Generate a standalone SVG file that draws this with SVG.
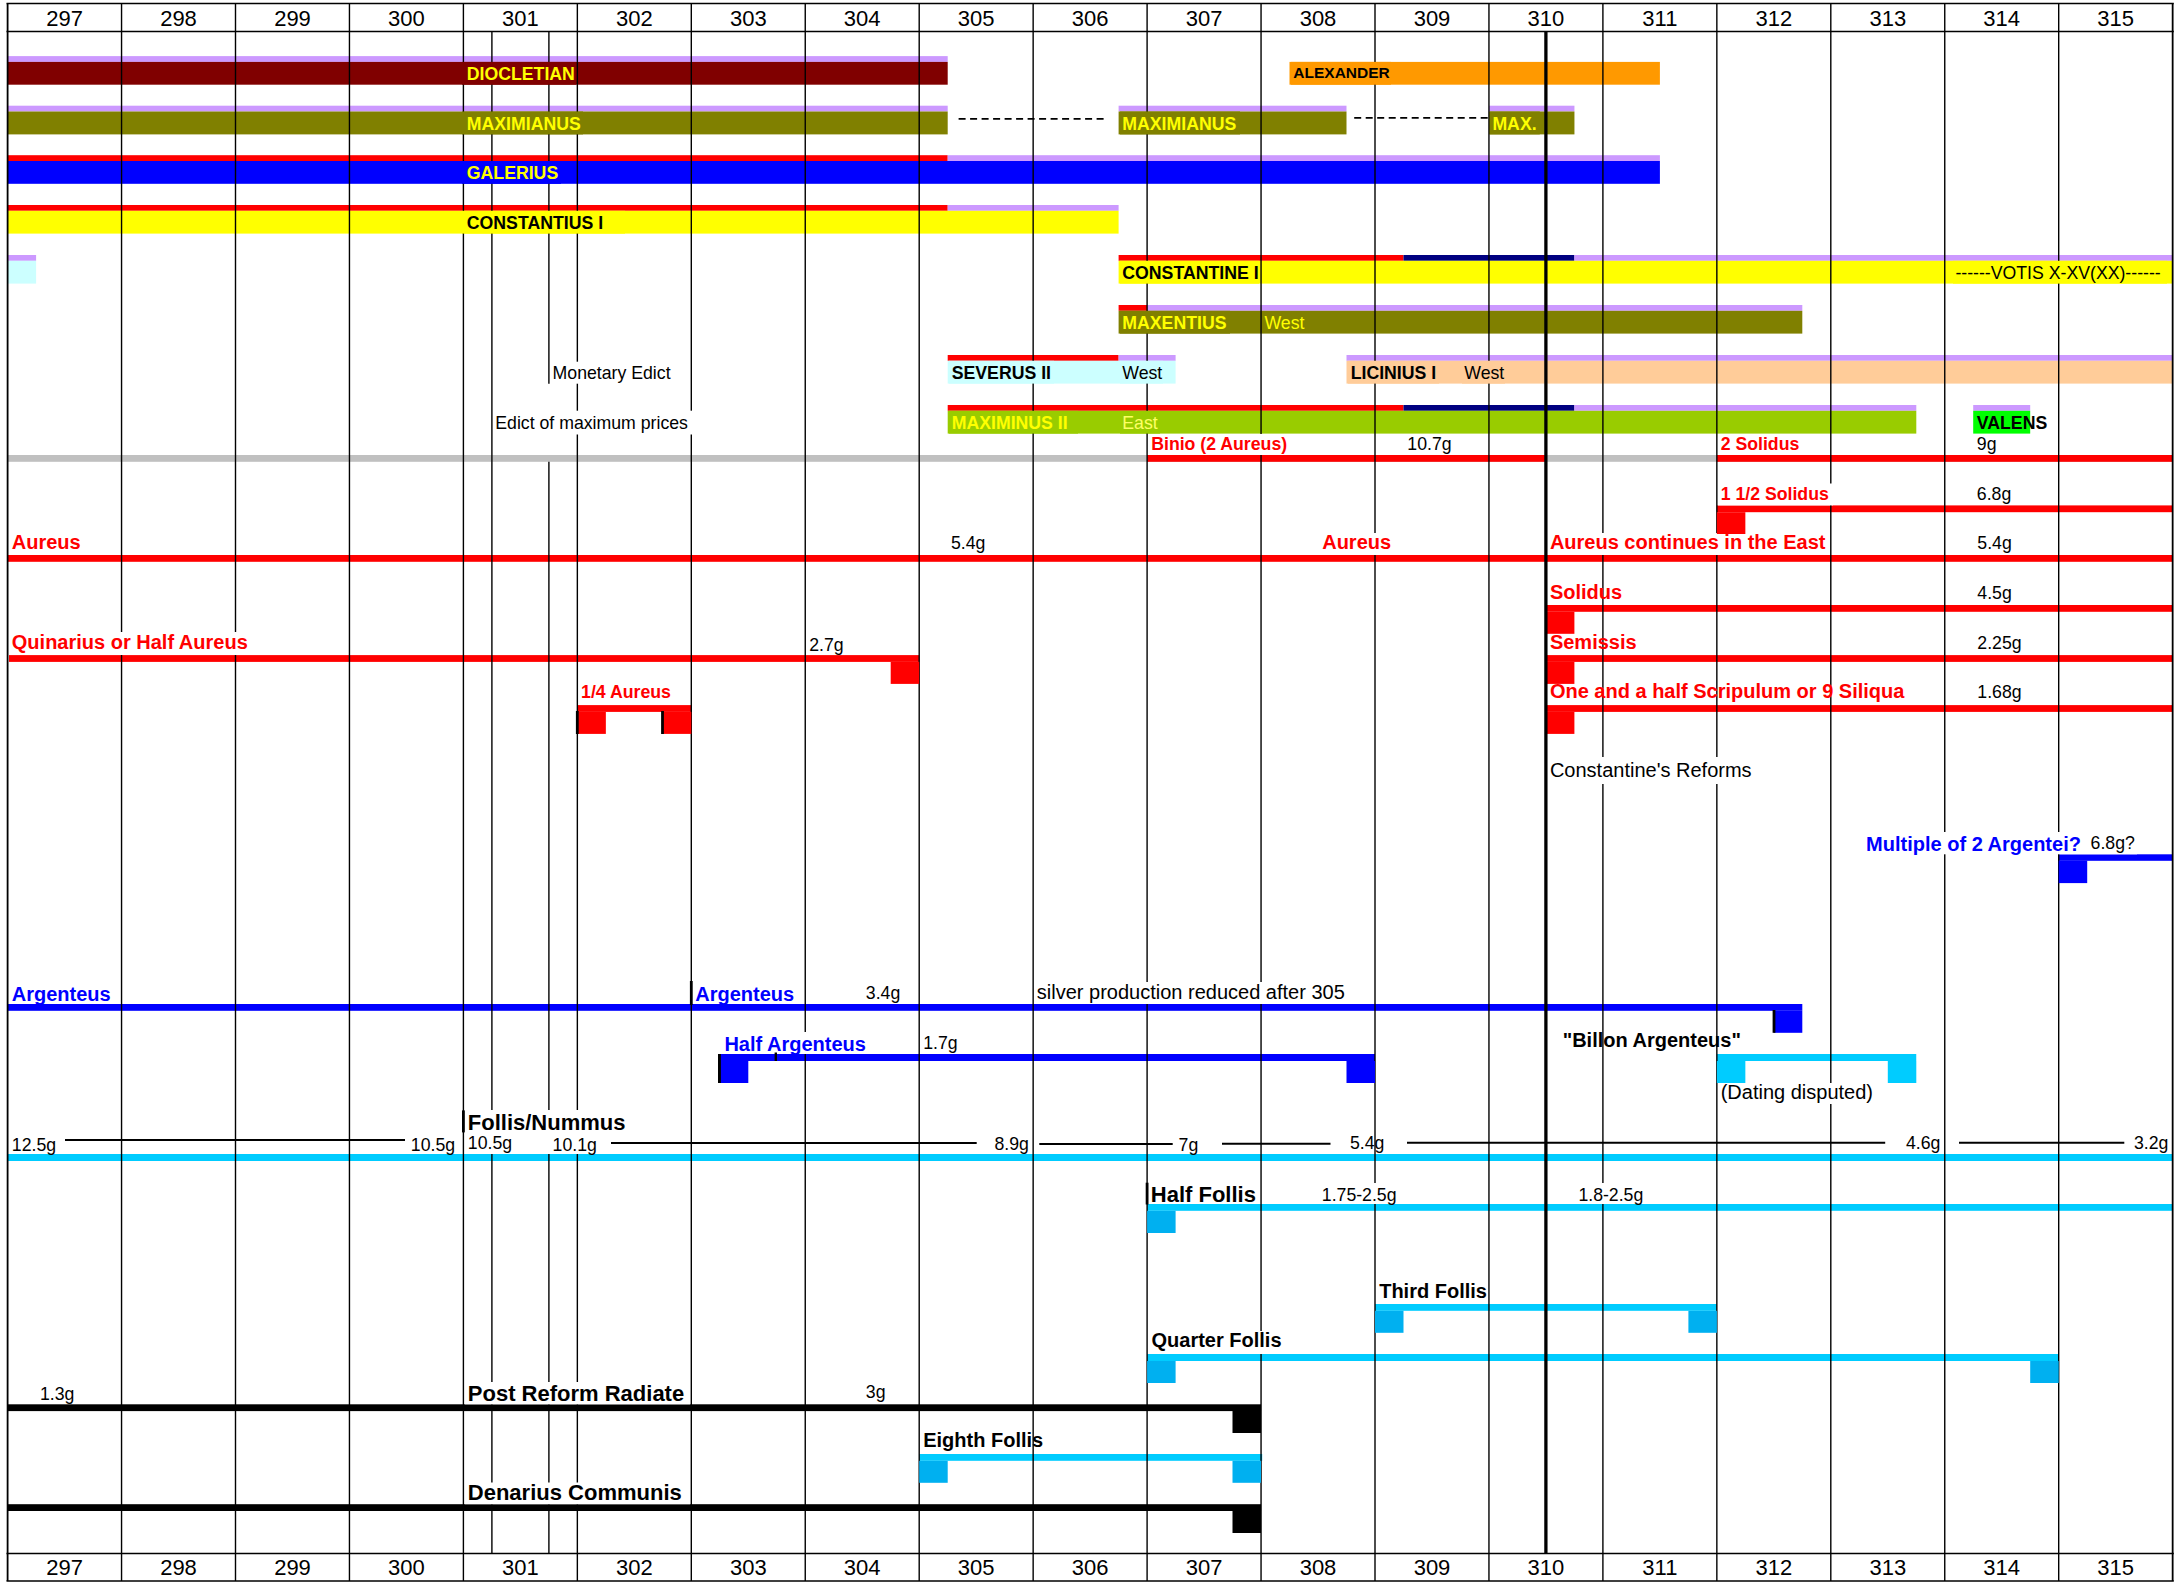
<svg xmlns="http://www.w3.org/2000/svg" width="2179" height="1587" viewBox="0 0 2179 1587">
<defs>
<style>
text{font-family:"Liberation Sans",Arial,Helvetica,sans-serif}
.yr{font-size:22px;text-anchor:middle;fill:#000}
.rb{font-size:17.7px;font-weight:bold}
.r{font-size:17.7px;fill:#000}
.r20{font-size:20px;fill:#000}
.b20{font-size:20px;font-weight:bold}
.b22{font-size:22px;font-weight:bold;fill:#000}
.grid line{stroke:#000;stroke-width:1.4}
.hl{stroke:#000;stroke-width:2.6}
.thick{stroke:#000;stroke-width:3.3}
.wl line{stroke:#000;stroke-width:2}
.dash{stroke:#000;stroke-width:1.8;stroke-dasharray:7 4.5}
.lav{fill:#CC99FF}
.red{fill:#FF0000}
.navy{fill:#000080}
.cy{fill:#00CCFF}
.cy2{fill:#00B0F0}
.blk{fill:#000}
.blu{fill:#0000FF}
.yel{fill:#FFFF00}
.ol{fill:#808000}
.wb{fill:#FFFFFF}
.tr{fill:#FF0000}
.tb{fill:#0000FF}
.ty{fill:#FFFF00}
.tk{fill:#000}
</style>
</defs>
<rect x="0" y="0" width="2179" height="1587" fill="#FFFFFF"/>

<!-- ruler bars -->
<g id="bars">
<g id="diocletian-bar"><rect class="lav" x="7.6" y="56.1" width="940.1" height="5.8"/><rect x="7.6" y="61.9" width="940.1" height="22.8" fill="#800000"/></g>
<g id="alexander-bar"><rect x="1289.5" y="61.9" width="370.4" height="22.8" fill="#FF9900"/></g>
<g id="maximianus-bar"><rect class="lav" x="7.6" y="105.7" width="940.1" height="5.8"/><rect class="ol" x="7.6" y="111.5" width="940.1" height="22.9"/>
<rect class="lav" x="1118.6" y="105.7" width="227.9" height="5.8"/><rect class="ol" x="1118.6" y="111.5" width="227.9" height="22.9"/>
<rect class="lav" x="1488.95" y="105.7" width="85.5" height="5.8"/><rect class="ol" x="1488.95" y="111.5" width="85.5" height="22.9"/></g>
<g id="galerius-bar"><rect class="red" x="7.6" y="155.2" width="940.1" height="5.8"/><rect class="lav" x="947.7" y="155.2" width="712.2" height="5.8"/><rect class="blu" x="7.6" y="161" width="1652.3" height="22.8"/></g>
<g id="constantius-bar"><rect class="red" x="7.6" y="205" width="940.1" height="5.8"/><rect class="lav" x="947.7" y="205" width="170.9" height="5.8"/><rect class="yel" x="7.6" y="210.8" width="1111" height="22.8"/></g>
<g id="small-bar"><rect class="lav" x="7.6" y="255" width="28.5" height="5.8"/><rect x="7.6" y="260.8" width="28.5" height="22.8" fill="#CCFFFF"/></g>
<g id="constantine-bar"><rect class="red" x="1118.6" y="255" width="284.9" height="5.8"/><rect class="navy" x="1403.5" y="255" width="170.9" height="5.8"/><rect class="lav" x="1574.4" y="255" width="598.25" height="5.8"/><rect class="yel" x="1118.6" y="260.8" width="1054.05" height="22.8"/></g>
<g id="maxentius-bar"><rect class="red" x="1118.6" y="305" width="28.5" height="5.8"/><rect class="lav" x="1147.1" y="305" width="655.2" height="5.8"/><rect class="ol" x="1118.6" y="310.8" width="683.7" height="22.8"/></g>
<g id="severus-bar"><rect class="red" x="947.7" y="355" width="170.9" height="5.8"/><rect class="lav" x="1118.6" y="355" width="57" height="5.8"/><rect x="947.7" y="360.8" width="227.9" height="22.8" fill="#CCFFFF"/></g>
<g id="licinius-bar"><rect class="lav" x="1346.5" y="355" width="826.15" height="5.8"/><rect x="1346.5" y="360.8" width="826.15" height="22.8" fill="#FFCC99"/></g>
<g id="maximinus-bar"><rect class="red" x="947.7" y="405" width="455.8" height="5.8"/><rect class="navy" x="1403.5" y="405" width="170.9" height="5.8"/><rect class="lav" x="1574.4" y="405" width="341.9" height="5.8"/><rect x="947.7" y="410.8" width="968.6" height="22.8" fill="#99CC00"/></g>
<g id="valens-bar"><rect class="lav" x="1973.2" y="405" width="57" height="5.8"/><rect x="1973.2" y="410.8" width="57" height="22.8" fill="#00FF00"/></g>
</g>

<!-- coin lines -->
<g id="coin-lines">
<rect x="7.6" y="455" width="2165.05" height="6.8" fill="#C0C0C0"/>
<rect class="red" x="1147.1" y="455" width="398.8" height="6.8"/>
<rect class="red" x="1716.85" y="455" width="455.8" height="6.8"/>
<rect class="red" x="1716.85" y="505.4" width="455.8" height="6.8"/>
<rect class="red" x="7.6" y="555" width="2165.05" height="6.8"/>
<rect class="red" x="1546" y="605" width="626.65" height="6.8"/>
<rect class="red" x="9" y="655.1" width="910.2" height="6.8"/>
<rect class="red" x="1546" y="655.1" width="626.65" height="6.8"/>
<rect class="red" x="577.35" y="705.1" width="113.95" height="6.8"/>
<rect class="red" x="1546" y="705.1" width="626.65" height="6.8"/>
<rect class="blu" x="2058.7" y="854.3" width="113.95" height="6.5"/>
<rect class="blu" x="7.6" y="1004" width="1794.7" height="6.8"/>
<rect class="blu" x="719" y="1054" width="656" height="7"/>
<rect class="cy" x="1716.85" y="1054" width="199.4" height="7"/>
<rect class="cy" x="7.6" y="1154" width="2165.05" height="7"/>
<rect class="cy" x="1147.1" y="1204" width="1025.55" height="6.8"/>
<rect class="cy" x="1375" y="1304" width="341.85" height="6.8"/>
<rect class="cy" x="1147.1" y="1354" width="911.6" height="7"/>
<rect class="blk" x="7.6" y="1404.3" width="1253.45" height="6.8"/>
<rect class="cy" x="919.2" y="1454" width="343" height="6.8"/>
<rect class="blk" x="7.6" y="1504.2" width="1253.45" height="6.8"/>
</g>

<!-- grid -->
<g class="grid" id="grid">
<line x1="121.55" y1="3.5" x2="121.55" y2="1581"/>
<line x1="235.5" y1="3.5" x2="235.5" y2="1581"/>
<line x1="349.45" y1="3.5" x2="349.45" y2="1581"/>
<line x1="463.4" y1="3.5" x2="463.4" y2="1581"/>
<line x1="577.35" y1="3.5" x2="577.35" y2="1581"/>
<line x1="691.3" y1="3.5" x2="691.3" y2="1581"/>
<line x1="805.25" y1="3.5" x2="805.25" y2="1581"/>
<line x1="919.2" y1="3.5" x2="919.2" y2="1581"/>
<line x1="1033.15" y1="3.5" x2="1033.15" y2="1581"/>
<line x1="1147.1" y1="3.5" x2="1147.1" y2="1581"/>
<line x1="1261.05" y1="3.5" x2="1261.05" y2="1581"/>
<line x1="1375" y1="3.5" x2="1375" y2="1581"/>
<line x1="1488.95" y1="3.5" x2="1488.95" y2="1581"/>
<line x1="1602.9" y1="3.5" x2="1602.9" y2="1581"/>
<line x1="1716.85" y1="3.5" x2="1716.85" y2="1581"/>
<line x1="1830.8" y1="3.5" x2="1830.8" y2="1581"/>
<line x1="1944.75" y1="3.5" x2="1944.75" y2="1581"/>
<line x1="2058.7" y1="3.5" x2="2058.7" y2="1581"/>
<line x1="7.6" y1="3.5" x2="7.6" y2="1581" style="stroke-width:1.8"/>
<line x1="2172.65" y1="3.5" x2="2172.65" y2="1581" style="stroke-width:1.8"/>
<line class="hl" x1="6.5" y1="3.5" x2="2173.8" y2="3.5"/>
<line class="hl" x1="6.5" y1="31.5" x2="2173.8" y2="31.5"/>
<line class="hl" x1="6.5" y1="1553.5" x2="2173.8" y2="1553.5"/>
<line class="hl" x1="6.5" y1="1581" x2="2173.8" y2="1581"/>
<line class="thick" x1="491.9" y1="31.5" x2="491.9" y2="1553.5"/>
<line class="thick" x1="548.9" y1="31.5" x2="548.9" y2="383.7"/>
<line class="thick" x1="548.9" y1="461.8" x2="548.9" y2="1553.5"/>
</g>

<!-- text background boxes -->
<g id="text-boxes">
<rect x="462" y="61.9" width="114" height="22.8" fill="#800000"/>
<rect x="462" y="111.5" width="121" height="22.9" fill="#808000"/>
<rect x="462" y="161" width="99" height="22.8" fill="#0000FF"/>
<rect x="462" y="210.8" width="163" height="22.8" fill="#FFFF00"/>
<rect x="1291" y="61.9" width="100" height="22.8" fill="#FF9900"/>
<rect x="1120" y="111.5" width="120" height="22.9" fill="#808000"/>
<rect x="1489.8" y="111.5" width="50" height="22.9" fill="#808000"/>
<rect x="1120" y="260.8" width="139" height="22.8" fill="#FFFF00"/>
<rect x="1953" y="260.8" width="214" height="22.8" fill="#FFFF00"/>
<rect x="1120" y="310.8" width="110" height="22.8" fill="#808000"/>
<rect x="949" y="360.8" width="105" height="22.8" fill="#CCFFFF"/>
<rect x="1120" y="360.8" width="43" height="22.8" fill="#CCFFFF"/>
<rect x="1348" y="360.8" width="91" height="22.8" fill="#FFCC99"/>
<rect x="1462" y="360.8" width="43" height="22.8" fill="#FFCC99"/>
<rect x="949" y="410.8" width="129" height="22.8" fill="#99CC00"/>
<rect x="1120" y="410.8" width="40" height="22.8" fill="#99CC00"/>
<rect class="wb" x="10" y="632" width="242" height="23"/>
<rect class="wb" x="551" y="361.7" width="123" height="22"/>
<rect class="wb" x="494" y="410.7" width="198.2" height="23.8"/>
<rect class="wb" x="1149" y="434" width="141" height="21"/>
<rect class="wb" x="1718" y="483.5" width="115" height="21.9"/>
<rect class="wb" x="1320" y="533" width="72" height="22"/>
<rect class="wb" x="1548" y="533" width="281" height="22"/>
<rect class="wb" x="1548" y="757" width="207" height="27"/>
<rect class="wb" x="1864" y="832" width="273" height="22.3"/>
<rect class="wb" x="1035" y="982" width="315" height="22"/>
<rect class="wb" x="722" y="1032" width="146" height="22"/>
<rect class="wb" x="1719" y="1083" width="157" height="21"/>
<rect class="wb" x="465" y="1110" width="164" height="23"/>
<rect class="wb" x="465" y="1133" width="136" height="21"/>
<rect class="wb" x="1320" y="1183" width="79" height="21"/>
<rect class="wb" x="1576" y="1183" width="74" height="21"/>
<rect class="wb" x="1149" y="1331" width="135" height="23"/>
<rect class="wb" x="465" y="1382" width="225" height="22.3"/>
<rect class="wb" x="465" y="1482.5" width="225" height="21.7"/>
</g>

<!-- squares and ticks -->
<g id="coin-squares">
<rect class="red" x="1716.85" y="512.2" width="28.5" height="21.8"/>
<rect class="red" x="1546" y="611.8" width="28.4" height="22"/>
<rect class="red" x="890.7" y="661.9" width="28.5" height="22"/>
<rect class="red" x="1546" y="661.9" width="28.4" height="22"/>
<rect class="red" x="577.35" y="711.9" width="28.5" height="22"/>
<rect class="blk" x="575.9" y="711" width="2.8" height="23"/>
<rect class="red" x="662.8" y="711.9" width="28.5" height="22"/>
<rect class="blk" x="661.1" y="711" width="2.8" height="23"/>
<rect class="red" x="1546" y="711.9" width="28.4" height="22"/>
<rect class="blu" x="2058.7" y="860.6" width="28.5" height="22.5"/>
<rect class="blu" x="1773.8" y="1010.8" width="28.5" height="22"/>
<rect class="blk" x="1772.6" y="1010" width="2.8" height="22.8"/>
<rect class="blk" x="689.9" y="981" width="2.8" height="24"/>
<rect class="blu" x="719" y="1061" width="29.3" height="22"/>
<rect class="blk" x="718" y="1054" width="2.9" height="29"/>
<rect class="blk" x="774.6" y="1052.5" width="2.4" height="8.5"/>
<rect class="blu" x="1346.5" y="1061" width="28.5" height="22"/>
<rect class="cy" x="1716.85" y="1061" width="28.5" height="22"/>
<rect class="cy" x="1887.8" y="1061" width="28.5" height="22"/>
<rect class="blk" x="462" y="1110.4" width="2.8" height="22"/>
<rect class="cy2" x="1147.1" y="1210.8" width="28.5" height="22.2"/>
<rect class="blk" x="1145.7" y="1182.7" width="2.8" height="21.8"/>
<rect class="cy2" x="1375" y="1310.8" width="28.5" height="22"/>
<rect class="cy2" x="1688.4" y="1310.8" width="28.5" height="22"/>
<rect class="cy2" x="1147.1" y="1361" width="28.5" height="22"/>
<rect class="cy2" x="2030.2" y="1361" width="28.5" height="22"/>
<rect class="blk" x="1232.5" y="1411" width="28.5" height="22"/>
<rect class="cy2" x="919.2" y="1460.8" width="28.5" height="22"/>
<rect class="cy2" x="1232.5" y="1460.8" width="28.5" height="22"/>
<rect class="blk" x="1232.5" y="1511" width="28.5" height="22"/>
</g>

<g id="connectors">
<line class="thick" x1="1545.9" y1="31.5" x2="1545.9" y2="1553.5"/>
<line class="dash" x1="958.6" y1="118.8" x2="1106.7" y2="118.8"/>
<line class="dash" x1="1354.2" y1="117.8" x2="1488.3" y2="117.8"/>
<g class="wl">
<line x1="65" y1="1140" x2="405" y2="1140"/>
<line x1="611" y1="1143" x2="976.7" y2="1143"/>
<line x1="1039.3" y1="1144" x2="1172.7" y2="1144"/>
<line x1="1222" y1="1143.7" x2="1330.5" y2="1143.7"/>
<line x1="1407" y1="1142.7" x2="1885.2" y2="1142.7"/>
<line x1="1959" y1="1142.7" x2="2124.3" y2="1142.7"/>
</g>
</g>

<!-- header years -->
<g id="years-top">
<text class="yr" x="64.6" y="25.6">297</text><text class="yr" x="178.5" y="25.6">298</text><text class="yr" x="292.5" y="25.6">299</text><text class="yr" x="406.4" y="25.6">300</text><text class="yr" x="520.4" y="25.6">301</text><text class="yr" x="634.3" y="25.6">302</text><text class="yr" x="748.3" y="25.6">303</text><text class="yr" x="862.2" y="25.6">304</text><text class="yr" x="976.2" y="25.6">305</text><text class="yr" x="1090.1" y="25.6">306</text><text class="yr" x="1204.1" y="25.6">307</text><text class="yr" x="1318" y="25.6">308</text><text class="yr" x="1432" y="25.6">309</text><text class="yr" x="1545.9" y="25.6">310</text><text class="yr" x="1659.9" y="25.6">311</text><text class="yr" x="1773.8" y="25.6">312</text><text class="yr" x="1887.8" y="25.6">313</text><text class="yr" x="2001.7" y="25.6">314</text><text class="yr" x="2115.7" y="25.6">315</text>
</g>
<g id="years-bottom">
<text class="yr" x="64.6" y="1575.2">297</text><text class="yr" x="178.5" y="1575.2">298</text><text class="yr" x="292.5" y="1575.2">299</text><text class="yr" x="406.4" y="1575.2">300</text><text class="yr" x="520.4" y="1575.2">301</text><text class="yr" x="634.3" y="1575.2">302</text><text class="yr" x="748.3" y="1575.2">303</text><text class="yr" x="862.2" y="1575.2">304</text><text class="yr" x="976.2" y="1575.2">305</text><text class="yr" x="1090.1" y="1575.2">306</text><text class="yr" x="1204.1" y="1575.2">307</text><text class="yr" x="1318" y="1575.2">308</text><text class="yr" x="1432" y="1575.2">309</text><text class="yr" x="1545.9" y="1575.2">310</text><text class="yr" x="1659.9" y="1575.2">311</text><text class="yr" x="1773.8" y="1575.2">312</text><text class="yr" x="1887.8" y="1575.2">313</text><text class="yr" x="2001.7" y="1575.2">314</text><text class="yr" x="2115.7" y="1575.2">315</text>
</g>

<!-- ruler labels -->
<g id="ruler-labels">
<text class="rb ty" x="466.8" y="79.8">DIOCLETIAN</text>
<text class="tk" x="1293.3" y="78" style="font-size:15.5px;font-weight:bold">ALEXANDER</text>
<text class="rb ty" x="466.8" y="129.5">MAXIMIANUS</text>
<text class="rb ty" x="1122.3" y="129.5">MAXIMIANUS</text>
<text class="rb ty" x="1492.4" y="129.5">MAX.</text>
<text class="rb ty" x="466.8" y="179.2">GALERIUS</text>
<text class="rb tk" x="466.8" y="229">CONSTANTIUS I</text>
<text class="rb tk" x="1122.3" y="278.8">CONSTANTINE I</text>
<text class="r" x="1955.4" y="278.5">------VOTIS X-XV(XX)------</text>
<text class="rb ty" x="1122.3" y="328.7">MAXENTIUS</text>
<text class="r" x="1264.5" y="328.7" style="fill:#FFFF00">West</text>
<text class="rb tk" x="951.7" y="378.6">SEVERUS II</text>
<text class="r" x="1122.3" y="378.6">West</text>
<text class="rb tk" x="1350.7" y="378.6">LICINIUS I</text>
<text class="r" x="1464.3" y="378.6">West</text>
<text class="rb ty" x="951.7" y="428.5">MAXIMINUS II</text>
<text class="r" x="1122.3" y="428.5" style="fill:#FFFF66">East</text>
<text class="rb tk" x="1976.8" y="428.5">VALENS</text>
<text class="r" x="552.6" y="379.3">Monetary Edict</text>
<text class="r" x="495.3" y="429.3">Edict of maximum prices</text>
</g>

<!-- coin labels -->
<g id="gold-labels">
<text class="rb tr" x="1151.2" y="449.5">Binio (2 Aureus)</text>
<text class="r" x="1407.3" y="449.5">10.7g</text>
<text class="rb tr" x="1720.7" y="449.5">2 Solidus</text>
<text class="r" x="1976.8" y="449.5">9g</text>
<text class="rb tr" x="1720.7" y="499.5">1 1/2 Solidus</text>
<text class="r" x="1976.8" y="499.7">6.8g</text>
<text class="b20 tr" x="11.8" y="549.3">Aureus</text>
<text class="r" x="951" y="549.3">5.4g</text>
<text class="b20 tr" x="1322.2" y="549.3">Aureus</text>
<text class="b20 tr" x="1549.9" y="549.3">Aureus continues in the East</text>
<text class="r" x="1977.3" y="549.3">5.4g</text>
<text class="b20 tr" x="1549.9" y="598.8">Solidus</text>
<text class="r" x="1977.3" y="599">4.5g</text>
<text class="b20 tr" x="11.8" y="648.5">Quinarius or Half Aureus</text>
<text class="r" x="809.2" y="650.7">2.7g</text>
<text class="b20 tr" x="1549.9" y="648.8">Semissis</text>
<text class="r" x="1977.3" y="648.5">2.25g</text>
<text class="rb tr" x="581.1" y="698">1/4 Aureus</text>
<text class="b20 tr" x="1549.9" y="698.3">One and a half Scripulum or 9 Siliqua</text>
<text class="r" x="1977.3" y="698.3">1.68g</text>
<text class="r20" x="1549.9" y="776.5">Constantine's Reforms</text>
</g>
<g id="silver-labels">
<text class="b20 tb" x="1866.1" y="850.5">Multiple of 2 Argentei?</text>
<text class="r" x="2090.6" y="848.5">6.8g?</text>
<text class="b20 tb" x="11.8" y="1000.6">Argenteus</text>
<text class="b20 tb" x="695.2" y="1000.6">Argenteus</text>
<text class="r" x="865.8" y="998.6">3.4g</text>
<text class="r20" x="1036.8" y="998.6">silver production reduced after 305</text>
<text class="b20 tb" x="724.4" y="1050.6">Half Argenteus</text>
<text class="r" x="923.2" y="1049">1.7g</text>
<text class="b20 tk" x="1562.7" y="1047.2">"Billon Argenteus"</text>
<text class="r20" x="1720.7" y="1098.7">(Dating disputed)</text>
</g>
<g id="bronze-labels">
<text class="b22" x="467.8" y="1130">Follis/Nummus</text>
<text class="r" x="11.8" y="1150.8">12.5g</text>
<text class="r" x="410.8" y="1150.8">10.5g</text>
<text class="r" x="467.8" y="1148.7">10.5g</text>
<text class="r" x="552.6" y="1150.8">10.1g</text>
<text class="r" x="994.4" y="1150">8.9g</text>
<text class="r" x="1178.6" y="1150.5">7g</text>
<text class="r" x="1350" y="1149">5.4g</text>
<text class="r" x="1906" y="1149">4.6g</text>
<text class="r" x="2134" y="1149">3.2g</text>
<text class="b22" x="1150.8" y="1202.2">Half Follis</text>
<text class="r" x="1321.8" y="1200.5">1.75-2.5g</text>
<text class="r" x="1578.4" y="1200.5">1.8-2.5g</text>
<text class="b20 tk" x="1379.2" y="1298">Third Follis</text>
<text class="b20 tk" x="1151.5" y="1347.4">Quarter Follis</text>
<text class="r" x="40" y="1400">1.3g</text>
<text class="b22" x="467.8" y="1401">Post Reform Radiate</text>
<text class="r" x="865.8" y="1397.8">3g</text>
<text class="b20 tk" x="923.2" y="1446.6">Eighth Follis</text>
<text class="b22" x="467.8" y="1500.3">Denarius Communis</text>
</g>
</svg>
